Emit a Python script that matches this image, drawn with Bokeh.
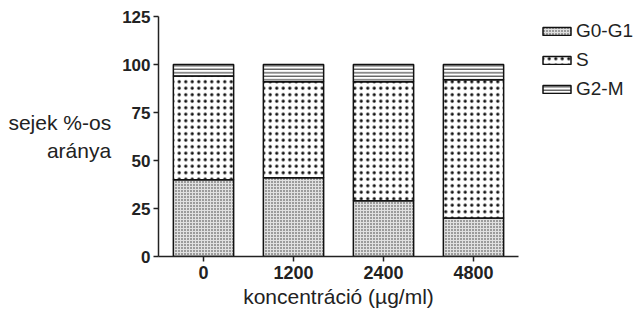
from bokeh.plotting import figure
from bokeh.models import ColumnDataSource, Range1d, FactorRange, Legend, LegendItem
from bokeh.embed import file_html
from bokeh.resources import INLINE

concentrations = ["0", "1200", "2400", "4800"]
g0_g1 = [40, 41, 29, 20]
s_phase = [54, 50, 62, 72]
g2_m = [6, 9, 9, 8]
y_ticks = [0, 25, 50, 75, 100, 125]

b1 = [0] * 4
t1 = [a for a in g0_g1]
t2 = [a + b for a, b in zip(g0_g1, s_phase)]
t3 = [a + b + c for a, b, c in zip(g0_g1, s_phase, g2_m)]

src = ColumnDataSource(dict(x=concentrations, b1=b1, t1=t1, t2=t2, t3=t3))

FONT = "Liberation Sans"
p = figure(frame_width=360, frame_height=240, x_range=FactorRange(*concentrations, range_padding=0),
           y_range=Range1d(0, 125), output_backend="svg", toolbar_location=None,
           min_border_left=158, min_border_top=16, min_border_right=2, min_border_bottom=48)
p.outline_line_color = None
p.grid.visible = False
p.background_fill_color = "white"

r1 = p.vbar(x="x", bottom="b1", top="t1", width=0.67, source=src, fill_color="#e0e0e0",
            line_color="#111", line_width=1.5, hatch_pattern="dot", hatch_scale=3,
            hatch_weight=1.5, hatch_color="#333")
r2 = p.vbar(x="x", bottom="t1", top="t2", width=0.67, source=src, fill_color="white",
            line_color="#111", line_width=1.5, hatch_pattern="dot", hatch_scale=6.5,
            hatch_weight=5.5, hatch_color="#111")
r3 = p.vbar(x="x", bottom="t2", top="t3", width=0.67, source=src, fill_color="white",
            line_color="#111", line_width=1.5, hatch_pattern="horizontal_line", hatch_scale=3.5,
            hatch_weight=1, hatch_color="#222")

p.yaxis.ticker = y_ticks
for ax in (p.xaxis[0], p.yaxis[0]):
    ax.axis_line_width = 1.5
    ax.axis_line_color = "#222"
    ax.major_tick_line_width = 1.5
    ax.major_tick_line_color = "#222"
    ax.major_tick_out = 5
    ax.major_tick_in = 0
    ax.minor_tick_line_color = None
    ax.major_label_text_font = FONT
    ax.major_label_text_font_style = "bold"
    ax.major_label_text_color = "#222"
    ax.axis_label_text_font = FONT
    ax.axis_label_text_font_style = "normal"
    ax.axis_label_text_color = "#222"

p.xaxis.major_label_text_font_size = "18px"
p.yaxis.major_label_text_font_size = "17px"
p.xaxis.axis_label = "koncentráció (µg/ml)"
p.xaxis.axis_label_text_font_size = "21px"
p.xaxis.axis_label_standoff = 3
p.xaxis.major_label_standoff = 4
p.yaxis.major_label_standoff = 3
p.yaxis.axis_label = "sejek %-os\naránya"
p.yaxis.axis_label_text_font_size = "21px"
p.yaxis.axis_label_text_line_height = 1.25
p.yaxis.axis_label_orientation = "horizontal"
p.yaxis.axis_label_text_align = "center"
p.yaxis.axis_label_standoff = 8

legend = Legend(items=[LegendItem(label="G0-G1", renderers=[r1]),
                       LegendItem(label="S", renderers=[r2]),
                       LegendItem(label="G2-M", renderers=[r3])],
                location=(21, 156), glyph_width=35, glyph_height=10,
                label_text_font=FONT, label_text_font_size="19px", label_text_color="#222",
                border_line_color=None, background_fill_alpha=0, spacing=7,
                padding=2, margin=0, label_standoff=2)
p.add_layout(legend, "right")

open("out.html", "w").write(file_html(p, INLINE))
